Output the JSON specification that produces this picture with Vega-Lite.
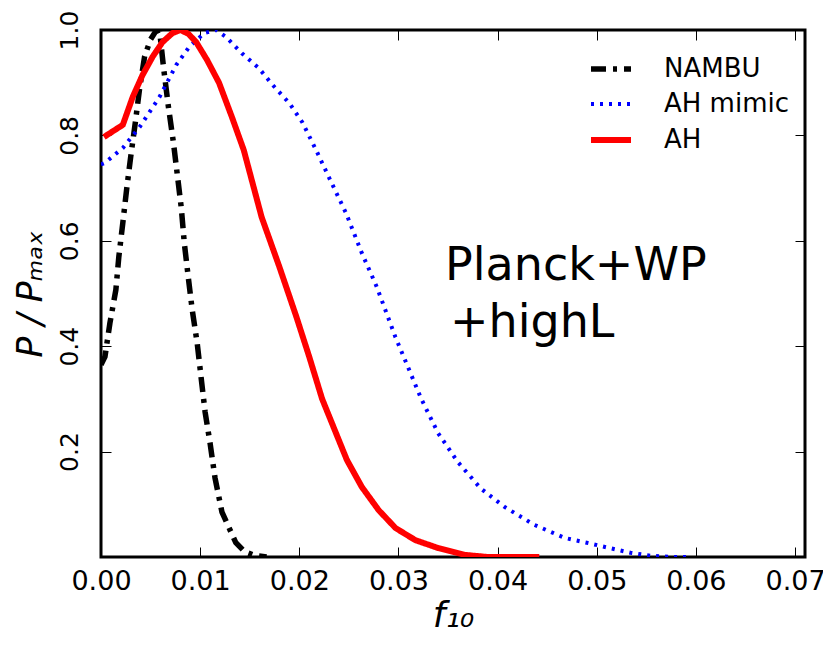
{
  "$schema": "https://vega.github.io/schema/vega-lite/v6.json",
  "width": 704,
  "height": 527,
  "autosize": {"type": "none"},
  "padding": {"left": 101, "top": 30, "right": 18, "bottom": 92},
  "background": "white",
  "config": {
    "font": "DejaVu Sans",
    "view": {"stroke": "black", "strokeWidth": 3},
    "axis": {"domain": false, "grid": false, "tickColor": "black", "tickWidth": 1, "labelColor": "black", "titleColor": "black", "labelFont": "DejaVu Sans", "titleFont": "DejaVu Sans", "labelFlush": false, "labelOverlap": false}
  },
  "datasets": {
    "curves": [
      {"series": "NAMBU", "x": 0.0, "y": 0.365},
      {"series": "NAMBU", "x": 0.0004, "y": 0.38},
      {"series": "NAMBU", "x": 0.0009, "y": 0.444},
      {"series": "NAMBU", "x": 0.0015, "y": 0.507},
      {"series": "NAMBU", "x": 0.0018, "y": 0.57},
      {"series": "NAMBU", "x": 0.0022, "y": 0.634},
      {"series": "NAMBU", "x": 0.0026, "y": 0.70},
      {"series": "NAMBU", "x": 0.003, "y": 0.76},
      {"series": "NAMBU", "x": 0.0035, "y": 0.83},
      {"series": "NAMBU", "x": 0.0039, "y": 0.89},
      {"series": "NAMBU", "x": 0.0044, "y": 0.95},
      {"series": "NAMBU", "x": 0.005, "y": 0.982},
      {"series": "NAMBU", "x": 0.0055, "y": 0.997},
      {"series": "NAMBU", "x": 0.0059, "y": 1.0},
      {"series": "NAMBU", "x": 0.0063, "y": 0.93},
      {"series": "NAMBU", "x": 0.0068, "y": 0.854},
      {"series": "NAMBU", "x": 0.0073, "y": 0.787},
      {"series": "NAMBU", "x": 0.0077, "y": 0.725},
      {"series": "NAMBU", "x": 0.0081, "y": 0.662},
      {"series": "NAMBU", "x": 0.0084, "y": 0.596},
      {"series": "NAMBU", "x": 0.0088, "y": 0.531},
      {"series": "NAMBU", "x": 0.0092, "y": 0.469},
      {"series": "NAMBU", "x": 0.0097, "y": 0.406},
      {"series": "NAMBU", "x": 0.0101, "y": 0.34},
      {"series": "NAMBU", "x": 0.0105, "y": 0.275},
      {"series": "NAMBU", "x": 0.011, "y": 0.216},
      {"series": "NAMBU", "x": 0.0115, "y": 0.15},
      {"series": "NAMBU", "x": 0.0122, "y": 0.085},
      {"series": "NAMBU", "x": 0.0136, "y": 0.027},
      {"series": "NAMBU", "x": 0.0145, "y": 0.01},
      {"series": "NAMBU", "x": 0.0155, "y": 0.003},
      {"series": "NAMBU", "x": 0.0167, "y": 0.0},
      {"series": "AH mimic", "x": 0.0, "y": 0.745},
      {"series": "AH mimic", "x": 0.0004, "y": 0.748},
      {"series": "AH mimic", "x": 0.0022, "y": 0.776},
      {"series": "AH mimic", "x": 0.0039, "y": 0.816},
      {"series": "AH mimic", "x": 0.0059, "y": 0.873},
      {"series": "AH mimic", "x": 0.0076, "y": 0.934},
      {"series": "AH mimic", "x": 0.0089, "y": 0.968},
      {"series": "AH mimic", "x": 0.0104, "y": 0.994},
      {"series": "AH mimic", "x": 0.0116, "y": 1.0},
      {"series": "AH mimic", "x": 0.0126, "y": 0.987},
      {"series": "AH mimic", "x": 0.0142, "y": 0.956},
      {"series": "AH mimic", "x": 0.0159, "y": 0.928},
      {"series": "AH mimic", "x": 0.0173, "y": 0.896},
      {"series": "AH mimic", "x": 0.019, "y": 0.861},
      {"series": "AH mimic", "x": 0.0203, "y": 0.825},
      {"series": "AH mimic", "x": 0.0217, "y": 0.772},
      {"series": "AH mimic", "x": 0.0232, "y": 0.712},
      {"series": "AH mimic", "x": 0.0247, "y": 0.653},
      {"series": "AH mimic", "x": 0.0263, "y": 0.577},
      {"series": "AH mimic", "x": 0.0278, "y": 0.513},
      {"series": "AH mimic", "x": 0.0297, "y": 0.417},
      {"series": "AH mimic", "x": 0.0323, "y": 0.30},
      {"series": "AH mimic", "x": 0.034, "y": 0.235},
      {"series": "AH mimic", "x": 0.036, "y": 0.18},
      {"series": "AH mimic", "x": 0.0383, "y": 0.13},
      {"series": "AH mimic", "x": 0.0407, "y": 0.095},
      {"series": "AH mimic", "x": 0.0437, "y": 0.061},
      {"series": "AH mimic", "x": 0.0468, "y": 0.036},
      {"series": "AH mimic", "x": 0.049, "y": 0.027},
      {"series": "AH mimic", "x": 0.0513, "y": 0.017},
      {"series": "AH mimic", "x": 0.0534, "y": 0.008},
      {"series": "AH mimic", "x": 0.0556, "y": 0.002},
      {"series": "AH mimic", "x": 0.0579, "y": 0.0},
      {"series": "AH mimic", "x": 0.059, "y": 0.0},
      {"series": "AH", "x": 0.0003, "y": 0.797},
      {"series": "AH", "x": 0.0022, "y": 0.82},
      {"series": "AH", "x": 0.0032, "y": 0.873},
      {"series": "AH", "x": 0.0042, "y": 0.915},
      {"series": "AH", "x": 0.0052, "y": 0.949},
      {"series": "AH", "x": 0.0062, "y": 0.977},
      {"series": "AH", "x": 0.0072, "y": 0.994},
      {"series": "AH", "x": 0.008, "y": 1.0},
      {"series": "AH", "x": 0.0088, "y": 0.993},
      {"series": "AH", "x": 0.0096, "y": 0.977},
      {"series": "AH", "x": 0.0107, "y": 0.943},
      {"series": "AH", "x": 0.0119, "y": 0.90},
      {"series": "AH", "x": 0.0132, "y": 0.835},
      {"series": "AH", "x": 0.0144, "y": 0.772},
      {"series": "AH", "x": 0.0162, "y": 0.645},
      {"series": "AH", "x": 0.018, "y": 0.55},
      {"series": "AH", "x": 0.0197, "y": 0.456},
      {"series": "AH", "x": 0.021, "y": 0.38},
      {"series": "AH", "x": 0.0223, "y": 0.30},
      {"series": "AH", "x": 0.0237, "y": 0.235},
      {"series": "AH", "x": 0.0248, "y": 0.184},
      {"series": "AH", "x": 0.0263, "y": 0.133},
      {"series": "AH", "x": 0.028, "y": 0.089},
      {"series": "AH", "x": 0.0297, "y": 0.055},
      {"series": "AH", "x": 0.0317, "y": 0.032},
      {"series": "AH", "x": 0.034, "y": 0.017},
      {"series": "AH", "x": 0.0367, "y": 0.004},
      {"series": "AH", "x": 0.039, "y": 0.0},
      {"series": "AH", "x": 0.0442, "y": 0.0}
    ],
    "notes": [
      {"x": 0.0347, "y": 0.526, "label": "Planck+WP"},
      {"x": 0.0352, "y": 0.4175, "label": "+highL"}
    ]
  },
  "layer": [
    {
      "data": {"name": "curves"},
      "mark": {"type": "line", "clip": true},
      "encoding": {
        "x": {"field": "x", "type": "quantitative", "scale": {"domain": [0, 0.071], "nice": false, "zero": false},
          "axis": {"orient": "bottom", "values": [0, 0.01, 0.02, 0.03, 0.04, 0.05, 0.06, 0.07], "format": ".2f", "tickSize": -10, "labelPadding": 21, "labelFontSize": 27, "title": "f₁₀", "titleFontSize": 36, "titleFontStyle": "italic", "titleFontWeight": "normal", "titlePadding": 4}},
        "y": {"field": "y", "type": "quantitative", "scale": {"domain": [0, 1], "nice": false, "zero": false},
          "axis": {"orient": "left", "values": [0.2, 0.4, 0.6, 0.8, 1.0], "format": ".1f", "tickSize": -10, "labelPadding": 29, "labelFontSize": 25, "labelAngle": -90, "labelAlign": "center", "labelBaseline": "bottom", "title": "P / Pₘₐₓ", "titleFontSize": 35, "titleFontStyle": "italic", "titleFontWeight": "normal", "titlePadding": 9}},
        "color": {"field": "series", "type": "nominal", "scale": {"domain": ["NAMBU", "AH mimic", "AH"], "range": ["#000000", "#0000ff", "#ff0000"]},
          "legend": {"title": null, "orient": "none", "legendX": 487, "legendY": 16, "padding": 0, "labelFontSize": 26, "labelOffset": 30, "symbolType": "stroke", "symbolSize": 1600, "symbolStrokeWidth": 5.5, "rowPadding": -2, "labelColor": "black"}},
        "strokeDash": {"field": "series", "type": "nominal", "scale": {"domain": ["NAMBU", "AH mimic", "AH"], "range": [[15, 7, 4, 7], [3, 6], [1, 0]]},
          "legend": {"title": null, "orient": "none", "legendX": 487, "legendY": 16, "padding": 0, "labelFontSize": 26, "labelOffset": 30, "symbolType": "stroke", "symbolSize": 1600, "symbolStrokeWidth": 5.5, "rowPadding": -2, "labelColor": "black"}},
        "strokeWidth": {"field": "series", "type": "nominal", "scale": {"type": "ordinal", "domain": ["NAMBU", "AH mimic", "AH"], "range": [5.5, 4, 6]}, "legend": null}
      }
    },
    {
      "data": {"name": "notes"},
      "mark": {"type": "text", "align": "left", "baseline": "alphabetic", "fontSize": 46, "font": "DejaVu Sans", "color": "black"},
      "encoding": {
        "text": {"field": "label"},
        "x": {"field": "x", "type": "quantitative", "scale": {"domain": [0, 0.071], "nice": false, "zero": false},
          "axis": {"orient": "top", "values": [0.01, 0.02, 0.03, 0.04, 0.05, 0.06, 0.07], "labels": false, "tickSize": -10, "title": null}},
        "y": {"field": "y", "type": "quantitative", "scale": {"domain": [0, 1], "nice": false, "zero": false},
          "axis": {"orient": "right", "values": [0.2, 0.4, 0.6, 0.8], "labels": false, "tickSize": -10, "title": null}}
      }
    }
  ],
  "resolve": {"axis": {"x": "independent", "y": "independent"}}
}
